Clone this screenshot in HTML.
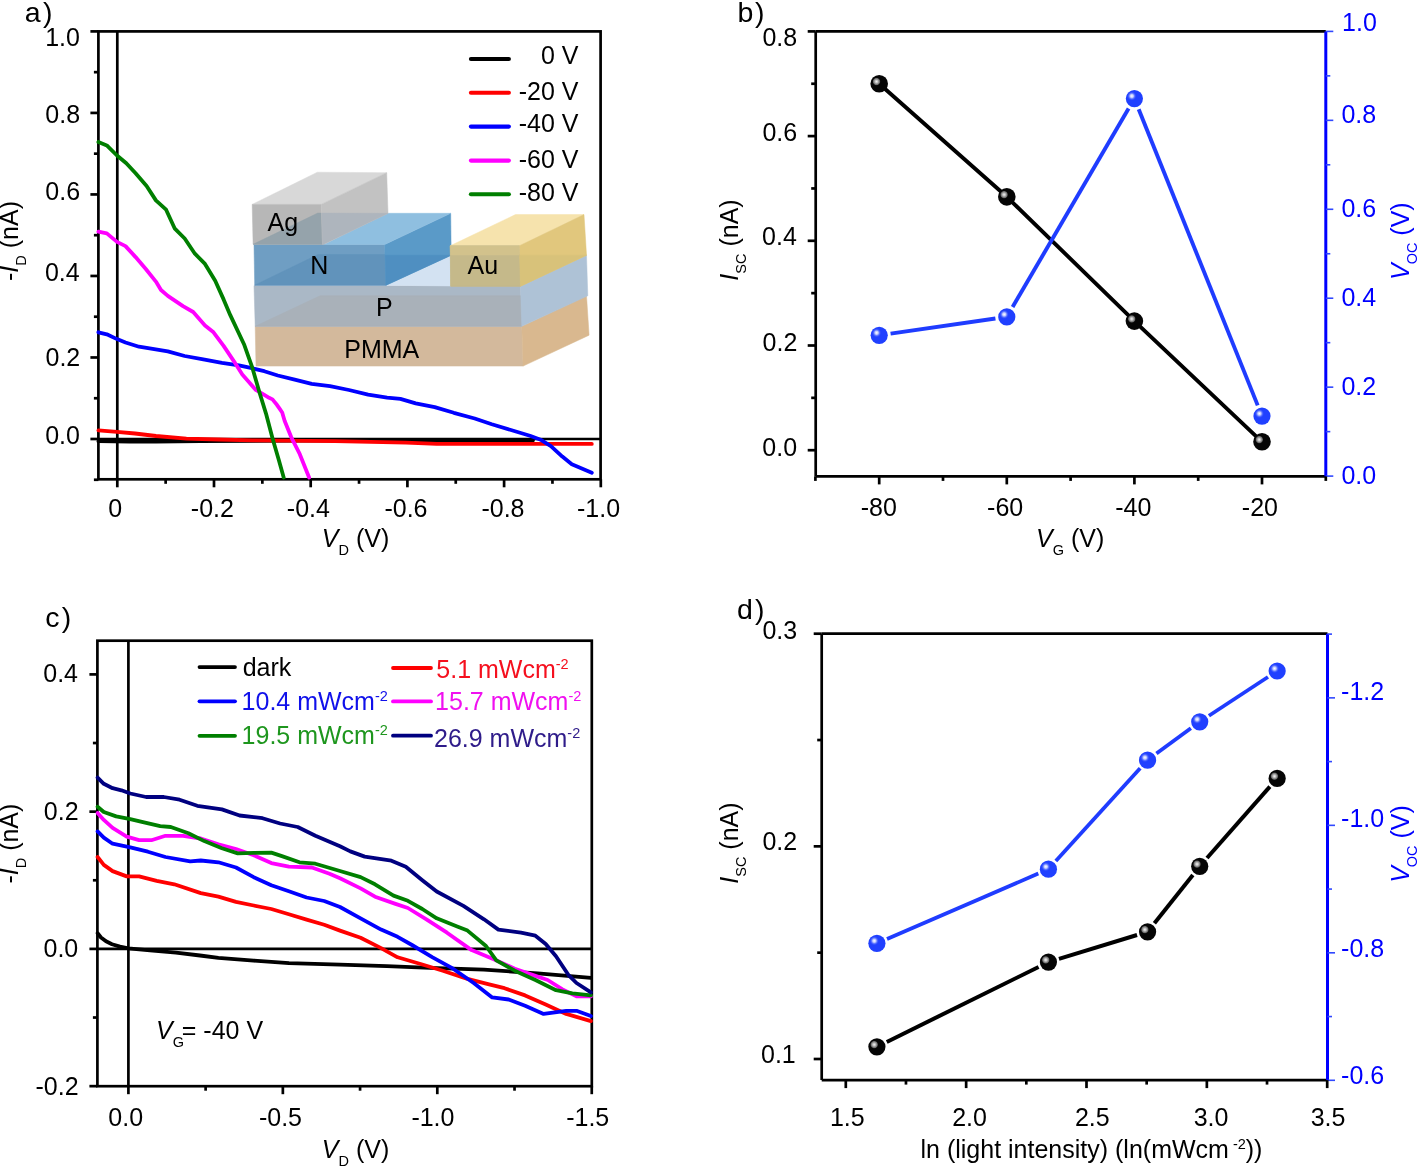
<!DOCTYPE html>
<html><head><meta charset="utf-8"><title>figure</title>
<style>
html,body{margin:0;padding:0;background:#fff;}
svg{display:block;will-change:transform;font-family:"Liberation Sans", sans-serif;}
</style></head>
<body>
<svg width="1418" height="1167" viewBox="0 0 1418 1167">
<rect width="1418" height="1167" fill="#fff"/>
<defs><radialGradient id="hk"><stop offset="0" stop-color="#f4f4f4"/><stop offset="0.35" stop-color="#bcbcbc"/><stop offset="0.72" stop-color="#8c8c8c" stop-opacity="0.75"/><stop offset="1" stop-color="#000" stop-opacity="0"/></radialGradient><radialGradient id="hb"><stop offset="0" stop-color="#ffffff"/><stop offset="0.35" stop-color="#d0d8ff" stop-opacity="0.9"/><stop offset="1" stop-color="#2040ff" stop-opacity="0"/></radialGradient></defs>
<polygon points="255.2,326.3 521.8,326.3 523.1,366.1 256,366.1" fill="#d3b99c" stroke="#d3b99c" stroke-width="0.5" stroke-linejoin="round"/>
<polygon points="521.8,326.3 586.5,295.8 589.1,335.2 523.1,366.1" fill="#d9b88f" stroke="#d9b88f" stroke-width="0.5" stroke-linejoin="round"/>
<polygon points="254,285.7 520.5,285.7 521.8,326.3 255.2,326.3" fill="#aab8c6" stroke="#aab8c6" stroke-width="0.5" stroke-linejoin="round"/>
<polygon points="255.2,326.3 320,295.8 521.3,295.8 521.8,326.3" fill="#a9b1b9" stroke="#a9b1b9" stroke-width="0.5" stroke-linejoin="round"/>
<polygon points="520.5,285.7 586.5,255.2 587.8,295.8 521.8,326.3" fill="#aec2d6" stroke="#aec2d6" stroke-width="0.5" stroke-linejoin="round"/>
<polygon points="386,285.2 451.2,255.2 451,286" fill="#d3e2f2" stroke="#d3e2f2" stroke-width="0.5" stroke-linejoin="round"/>
<polygon points="254,244.5 384.7,244.5 386,285.2 254.7,285.2" fill="#6f9ec3" stroke="#6f9ec3" stroke-width="0.5" stroke-linejoin="round"/>
<polygon points="254.7,285.2 318,254.5 385.5,254.5 386,285.2" fill="#6193bb" stroke="#6193bb" stroke-width="0.5" stroke-linejoin="round"/>
<polygon points="384.7,244.5 450.7,213.3 451.2,255.2 386,285.2" fill="#5a9ac8" stroke="#5a9ac8" stroke-width="0.5" stroke-linejoin="round"/>
<polygon points="385.4,255.2 451.2,255.2 386,285.2" fill="#4f8fc1" stroke="#4f8fc1" stroke-width="0.5" stroke-linejoin="round"/>
<polygon points="324,244.5 388,213.3 450.7,213.3 384.7,244.5" fill="#8fbfe0" stroke="#8fbfe0" stroke-width="0.5" stroke-linejoin="round"/>
<polygon points="252.2,204.4 317.4,172.2 386.7,172.7 321.2,204.4" fill="#d8d8d8" stroke="#d8d8d8" stroke-width="0.5" stroke-linejoin="round"/>
<polygon points="252.2,204.4 321.2,204.4 322.5,244.3 253.1,244.3" fill="#b7b7b7" stroke="#b7b7b7" stroke-width="0.5" stroke-linejoin="round"/>
<polygon points="253.1,244.3 317.8,213.1 321.8,213.1 322.5,244.3" fill="#95a3ab" stroke="#95a3ab" stroke-width="0.5" stroke-linejoin="round"/>
<polygon points="321.2,204.4 386.7,172.7 388,213.3 322.5,244.3" fill="#c2c2c2" stroke="#c2c2c2" stroke-width="0.5" stroke-linejoin="round"/>
<polygon points="321.8,213.1 388,213.3 324,244.3 322.5,244.3" fill="#aeb5bd" stroke="#aeb5bd" stroke-width="0.5" stroke-linejoin="round"/>
<polygon points="515.4,214.6 584,214.6 519.3,245.8 450.2,245.8" fill="#f6e3ad" stroke="#f6e3ad" stroke-width="0.5" stroke-linejoin="round"/>
<polygon points="450.2,245.8 519.3,245.8 520.5,286.2 450.7,286.2" fill="#c9bc8b" stroke="#c9bc8b" stroke-width="0.5" stroke-linejoin="round"/>
<polygon points="519.3,245.8 584,214.6 586.5,255.2 520.5,286.2" fill="#e1c77d" stroke="#e1c77d" stroke-width="0.5" stroke-linejoin="round"/>
<polygon points="450.5,255 519.6,255 520.5,286.2 450.7,286.2" fill="#c5b98a" stroke="#c5b98a" stroke-width="0.5" stroke-linejoin="round"/>
<polygon points="450.2,245.8 519.3,245.8 519.6,255 450.5,255" fill="#d2c28c" stroke="#d2c28c" stroke-width="0.5" stroke-linejoin="round"/>
<polygon points="519.6,255.2 586.5,255.2 520.5,286.2" fill="#d8c27a" stroke="#d8c27a" stroke-width="0.5" stroke-linejoin="round"/>
<text x="267.5" y="230.5" font-size="25" text-anchor="start" fill="#000" >Ag</text>
<text x="310.2" y="273.9" font-size="25" text-anchor="start" fill="#000" >N</text>
<text x="467.6" y="273.9" font-size="25" text-anchor="start" fill="#000" >Au</text>
<text x="376" y="316.2" font-size="25" text-anchor="start" fill="#000" >P</text>
<text x="344.3" y="357.6" font-size="25" text-anchor="start" fill="#000" >PMMA</text>
<rect x="98.4" y="31.4" width="502.2" height="447.9" fill="none" stroke="#000" stroke-width="2.7"/>
<line x1="117.3" y1="31.4" x2="117.3" y2="479.3" stroke="#000" stroke-width="2.7" stroke-linecap="butt"/>
<line x1="98.4" y1="439" x2="600.6" y2="439" stroke="#000" stroke-width="2.7" stroke-linecap="butt"/>
<line x1="98.4" y1="439" x2="90.4" y2="439" stroke="#000" stroke-width="2.7" stroke-linecap="butt"/>
<line x1="98.4" y1="357.48" x2="90.4" y2="357.48" stroke="#000" stroke-width="2.7" stroke-linecap="butt"/>
<line x1="98.4" y1="275.96" x2="90.4" y2="275.96" stroke="#000" stroke-width="2.7" stroke-linecap="butt"/>
<line x1="98.4" y1="194.44" x2="90.4" y2="194.44" stroke="#000" stroke-width="2.7" stroke-linecap="butt"/>
<line x1="98.4" y1="112.92" x2="90.4" y2="112.92" stroke="#000" stroke-width="2.7" stroke-linecap="butt"/>
<line x1="98.4" y1="31.4" x2="90.4" y2="31.4" stroke="#000" stroke-width="2.7" stroke-linecap="butt"/>
<line x1="98.4" y1="398.24" x2="93.9" y2="398.24" stroke="#000" stroke-width="2.7" stroke-linecap="butt"/>
<line x1="98.4" y1="316.72" x2="93.9" y2="316.72" stroke="#000" stroke-width="2.7" stroke-linecap="butt"/>
<line x1="98.4" y1="235.2" x2="93.9" y2="235.2" stroke="#000" stroke-width="2.7" stroke-linecap="butt"/>
<line x1="98.4" y1="153.68" x2="93.9" y2="153.68" stroke="#000" stroke-width="2.7" stroke-linecap="butt"/>
<line x1="98.4" y1="72.16" x2="93.9" y2="72.16" stroke="#000" stroke-width="2.7" stroke-linecap="butt"/>
<line x1="98.4" y1="479.76" x2="93.9" y2="479.76" stroke="#000" stroke-width="2.7" stroke-linecap="butt"/>
<line x1="117.3" y1="479.3" x2="117.3" y2="487.3" stroke="#000" stroke-width="2.7" stroke-linecap="butt"/>
<line x1="214" y1="479.3" x2="214" y2="487.3" stroke="#000" stroke-width="2.7" stroke-linecap="butt"/>
<line x1="310.7" y1="479.3" x2="310.7" y2="487.3" stroke="#000" stroke-width="2.7" stroke-linecap="butt"/>
<line x1="407.4" y1="479.3" x2="407.4" y2="487.3" stroke="#000" stroke-width="2.7" stroke-linecap="butt"/>
<line x1="504.1" y1="479.3" x2="504.1" y2="487.3" stroke="#000" stroke-width="2.7" stroke-linecap="butt"/>
<line x1="600.8" y1="479.3" x2="600.8" y2="487.3" stroke="#000" stroke-width="2.7" stroke-linecap="butt"/>
<line x1="165.65" y1="479.3" x2="165.65" y2="483.8" stroke="#000" stroke-width="2.7" stroke-linecap="butt"/>
<line x1="262.35" y1="479.3" x2="262.35" y2="483.8" stroke="#000" stroke-width="2.7" stroke-linecap="butt"/>
<line x1="359.05" y1="479.3" x2="359.05" y2="483.8" stroke="#000" stroke-width="2.7" stroke-linecap="butt"/>
<line x1="455.75" y1="479.3" x2="455.75" y2="483.8" stroke="#000" stroke-width="2.7" stroke-linecap="butt"/>
<line x1="552.45" y1="479.3" x2="552.45" y2="483.8" stroke="#000" stroke-width="2.7" stroke-linecap="butt"/>
<text x="45.22" y="46.1" font-size="25" text-anchor="start" fill="#000" >1.0</text>
<text x="45.33" y="122.7" font-size="25" text-anchor="start" fill="#000" >0.8</text>
<text x="45.35" y="199.5" font-size="25" text-anchor="start" fill="#000" >0.6</text>
<text x="44.98" y="281.1" font-size="25" text-anchor="start" fill="#000" >0.4</text>
<text x="45.5" y="365.5" font-size="25" text-anchor="start" fill="#000" >0.2</text>
<text x="45.22" y="444.3" font-size="25" text-anchor="start" fill="#000" >0.0</text>
<text x="108.2" y="516.6" font-size="25" text-anchor="start" fill="#000" >0</text>
<text x="190.83" y="516.6" font-size="25" text-anchor="start" fill="#000" >-0.2</text>
<text x="286.82" y="516.6" font-size="25" text-anchor="start" fill="#000" >-0.4</text>
<text x="384.45" y="516.6" font-size="25" text-anchor="start" fill="#000" >-0.6</text>
<text x="481.45" y="516.6" font-size="25" text-anchor="start" fill="#000" >-0.8</text>
<text x="577.04" y="516.6" font-size="25" text-anchor="start" fill="#000" >-1.0</text>
<polyline points="98.4,441.2 130,441.6 155.9,441.6 200,441 300,440.6 400,440.3 533,440.3" fill="none" stroke="#000" stroke-width="3.8" stroke-linejoin="round" stroke-linecap="round"/>
<polyline points="98.4,430.4 117,431.9 135,433.5 156,436 186.4,438.6 218.6,439.5 252.4,440.3 335,441.2 406,442.7 436.6,443.9 591.8,443.9" fill="none" stroke="#ff0000" stroke-width="3.8" stroke-linejoin="round" stroke-linecap="round"/>
<polyline points="98.4,332.3 106.8,334.3 117,339.1 125.5,342.5 139,346.7 154.2,349.2 167.8,351.3 184.7,356 203.3,359.4 222,362.8 238.9,365.3 250.7,367.9 264.3,371.2 277.8,375.5 294.7,379.7 311.7,383.9 330,386.2 349,390 368.1,394.7 387.1,397.6 400.4,398.9 415.7,403.3 434.7,407.1 453.8,412.8 474.7,418.5 491.8,424.2 510.9,430 529.9,435.7 541.3,440.1 550.9,446.1 562.3,456.6 571.8,464.2 591.8,472.8" fill="none" stroke="#0000ff" stroke-width="3.8" stroke-linejoin="round" stroke-linecap="round"/>
<polyline points="98.4,231.7 106.8,233.4 117,241.9 125.5,246.1 135.6,257.1 145.8,269 155.9,281.6 161,290 167.8,295.9 183,306.1 193.2,312 205,325.5 213.5,332.3 223.6,345.9 233.8,361.1 242.3,374.6 255.8,389.9 264.3,394.9 269.1,397.8 272.5,399.4 274.5,401.9 276.9,404.8 279.4,408.4 282.2,412.5 284.6,420.7 291.3,437.3 299.8,454.2 309.1,477.5" fill="none" stroke="#ff00ff" stroke-width="3.8" stroke-linejoin="round" stroke-linecap="round"/>
<polyline points="98.4,142 106.8,145.4 117,155.5 126.3,163.2 135.6,173.3 146.6,186 155.9,200.4 166.1,209.7 174.6,228.3 184.7,238.5 194.9,253.7 205,263.9 215.2,280.8 223.6,299.4 230.4,315.4 244,344.2 252.4,367.9 259.2,391.6 266,413.6 272.7,439 278.6,459.3 283.7,477.5" fill="none" stroke="#007f00" stroke-width="3.8" stroke-linejoin="round" stroke-linecap="round"/>
<line x1="470.9" y1="59" x2="508.9" y2="59" stroke="#000" stroke-width="4.1" stroke-linecap="round"/>
<text x="540.89" y="64.3" font-size="25" text-anchor="start" fill="#000" >0 V</text>
<line x1="470.9" y1="92.7" x2="508.9" y2="92.7" stroke="#ff0000" stroke-width="4.1" stroke-linecap="round"/>
<text x="518.66" y="100" font-size="25" text-anchor="start" fill="#000" >-20 V</text>
<line x1="470.9" y1="126.6" x2="508.9" y2="126.6" stroke="#0000ff" stroke-width="4.1" stroke-linecap="round"/>
<text x="518.66" y="131.7" font-size="25" text-anchor="start" fill="#000" >-40 V</text>
<line x1="470.9" y1="160.6" x2="508.9" y2="160.6" stroke="#ff00ff" stroke-width="4.1" stroke-linecap="round"/>
<text x="518.66" y="167.7" font-size="25" text-anchor="start" fill="#000" >-60 V</text>
<line x1="470.9" y1="194.3" x2="508.9" y2="194.3" stroke="#007f00" stroke-width="4.1" stroke-linecap="round"/>
<text x="518.66" y="201.4" font-size="25" text-anchor="start" fill="#000" >-80 V</text>
<text x="24.7" y="21.9" font-size="28.5" text-anchor="start" fill="#000" >a</text>
<text x="42.9" y="21.9" font-size="28.5" text-anchor="start" fill="#000" >)</text>
<text transform="translate(18,241) rotate(-90)" font-size="25" text-anchor="middle">-<tspan font-style="italic">I</tspan><tspan font-size="14.5" dy="8">D</tspan><tspan dy="-8"> (nA)</tspan></text>
<text x="321.8" y="546.7" font-size="25"><tspan font-style="italic">V</tspan><tspan font-size="14.5" dy="8">D</tspan><tspan dy="-8"> (V)</tspan></text>
<line x1="815.7" y1="31.4" x2="1325.8" y2="31.4" stroke="#000" stroke-width="2.7" stroke-linecap="butt"/>
<line x1="815.7" y1="476.4" x2="1325.8" y2="476.4" stroke="#000" stroke-width="2.7" stroke-linecap="butt"/>
<line x1="815.7" y1="31.4" x2="815.7" y2="476.4" stroke="#000" stroke-width="2.7" stroke-linecap="butt"/>
<line x1="1325.8" y1="31.4" x2="1325.8" y2="476.4" stroke="#0000ff" stroke-width="3" stroke-linecap="butt"/>
<line x1="815.7" y1="450.2" x2="807.7" y2="450.2" stroke="#000" stroke-width="2.7" stroke-linecap="butt"/>
<line x1="815.7" y1="345.5" x2="807.7" y2="345.5" stroke="#000" stroke-width="2.7" stroke-linecap="butt"/>
<line x1="815.7" y1="240.8" x2="807.7" y2="240.8" stroke="#000" stroke-width="2.7" stroke-linecap="butt"/>
<line x1="815.7" y1="136.1" x2="807.7" y2="136.1" stroke="#000" stroke-width="2.7" stroke-linecap="butt"/>
<line x1="815.7" y1="31.4" x2="807.7" y2="31.4" stroke="#000" stroke-width="2.7" stroke-linecap="butt"/>
<line x1="815.7" y1="397.85" x2="811.2" y2="397.85" stroke="#000" stroke-width="2.7" stroke-linecap="butt"/>
<line x1="815.7" y1="293.15" x2="811.2" y2="293.15" stroke="#000" stroke-width="2.7" stroke-linecap="butt"/>
<line x1="815.7" y1="188.45" x2="811.2" y2="188.45" stroke="#000" stroke-width="2.7" stroke-linecap="butt"/>
<line x1="815.7" y1="83.75" x2="811.2" y2="83.75" stroke="#000" stroke-width="2.7" stroke-linecap="butt"/>
<line x1="1325.8" y1="476.1" x2="1333.3" y2="476.1" stroke="#3048ff" stroke-width="1.6" stroke-linecap="butt"/>
<line x1="1325.8" y1="387.16" x2="1333.3" y2="387.16" stroke="#3048ff" stroke-width="1.6" stroke-linecap="butt"/>
<line x1="1325.8" y1="298.22" x2="1333.3" y2="298.22" stroke="#3048ff" stroke-width="1.6" stroke-linecap="butt"/>
<line x1="1325.8" y1="209.28" x2="1333.3" y2="209.28" stroke="#3048ff" stroke-width="1.6" stroke-linecap="butt"/>
<line x1="1325.8" y1="120.34" x2="1333.3" y2="120.34" stroke="#3048ff" stroke-width="1.6" stroke-linecap="butt"/>
<line x1="1325.8" y1="31.4" x2="1333.3" y2="31.4" stroke="#3048ff" stroke-width="1.6" stroke-linecap="butt"/>
<line x1="1325.8" y1="431.63" x2="1330.3" y2="431.63" stroke="#3048ff" stroke-width="1.6" stroke-linecap="butt"/>
<line x1="1325.8" y1="342.69" x2="1330.3" y2="342.69" stroke="#3048ff" stroke-width="1.6" stroke-linecap="butt"/>
<line x1="1325.8" y1="253.75" x2="1330.3" y2="253.75" stroke="#3048ff" stroke-width="1.6" stroke-linecap="butt"/>
<line x1="1325.8" y1="164.81" x2="1330.3" y2="164.81" stroke="#3048ff" stroke-width="1.6" stroke-linecap="butt"/>
<line x1="1325.8" y1="75.87" x2="1330.3" y2="75.87" stroke="#3048ff" stroke-width="1.6" stroke-linecap="butt"/>
<line x1="879.2" y1="476.4" x2="879.2" y2="484.4" stroke="#000" stroke-width="2.7" stroke-linecap="butt"/>
<line x1="1006.8" y1="476.4" x2="1006.8" y2="484.4" stroke="#000" stroke-width="2.7" stroke-linecap="butt"/>
<line x1="1134.4" y1="476.4" x2="1134.4" y2="484.4" stroke="#000" stroke-width="2.7" stroke-linecap="butt"/>
<line x1="1262" y1="476.4" x2="1262" y2="484.4" stroke="#000" stroke-width="2.7" stroke-linecap="butt"/>
<line x1="815.4" y1="476.4" x2="815.4" y2="480.9" stroke="#000" stroke-width="2.7" stroke-linecap="butt"/>
<line x1="943" y1="476.4" x2="943" y2="480.9" stroke="#000" stroke-width="2.7" stroke-linecap="butt"/>
<line x1="1070.6" y1="476.4" x2="1070.6" y2="480.9" stroke="#000" stroke-width="2.7" stroke-linecap="butt"/>
<line x1="1198.2" y1="476.4" x2="1198.2" y2="480.9" stroke="#000" stroke-width="2.7" stroke-linecap="butt"/>
<line x1="1325.8" y1="476.4" x2="1325.8" y2="480.9" stroke="#000" stroke-width="2.7" stroke-linecap="butt"/>
<text x="762.43" y="45.5" font-size="25" text-anchor="start" fill="#000" >0.8</text>
<text x="762.45" y="141.3" font-size="25" text-anchor="start" fill="#000" >0.6</text>
<text x="762.08" y="245.3" font-size="25" text-anchor="start" fill="#000" >0.4</text>
<text x="762.6" y="351.1" font-size="25" text-anchor="start" fill="#000" >0.2</text>
<text x="762.32" y="455.7" font-size="25" text-anchor="start" fill="#000" >0.0</text>
<text x="1342.1" y="30.7" font-size="25" text-anchor="start" fill="#0000ff" >1.0</text>
<text x="1341.42" y="122.8" font-size="25" text-anchor="start" fill="#0000ff" >0.8</text>
<text x="1341.42" y="217" font-size="25" text-anchor="start" fill="#0000ff" >0.6</text>
<text x="1341.42" y="306" font-size="25" text-anchor="start" fill="#0000ff" >0.4</text>
<text x="1341.42" y="395.3" font-size="25" text-anchor="start" fill="#0000ff" >0.2</text>
<text x="1341.42" y="484.3" font-size="25" text-anchor="start" fill="#0000ff" >0.0</text>
<text x="860.77" y="516.4" font-size="25" text-anchor="start" fill="#000" >-80</text>
<text x="987.07" y="516.4" font-size="25" text-anchor="start" fill="#000" >-60</text>
<text x="1115.17" y="516.4" font-size="25" text-anchor="start" fill="#000" >-40</text>
<text x="1241.87" y="516.4" font-size="25" text-anchor="start" fill="#000" >-20</text>
<polyline points="879.2,83.75 1006.8,196.83 1134.4,321.1 1262,441.82" fill="none" stroke="#000" stroke-width="3.9" stroke-linejoin="round" stroke-linecap="round"/>
<line x1="890.58" y1="333.67" x2="995.42" y2="318.54" stroke="#1f3cff" stroke-width="3.9" stroke-linecap="butt"/>
<line x1="1012.6" y1="306.97" x2="1128.6" y2="108.48" stroke="#1f3cff" stroke-width="3.9" stroke-linecap="butt"/>
<line x1="1138.69" y1="109.22" x2="1257.71" y2="405.39" stroke="#1f3cff" stroke-width="3.9" stroke-linecap="butt"/>
<circle cx="879.2" cy="83.75" r="8.8" fill="#050505"/>
<circle cx="876.5" cy="81.55" r="4.4" fill="url(#hk)"/>
<circle cx="1006.8" cy="196.83" r="8.8" fill="#050505"/>
<circle cx="1004.1" cy="194.63" r="4.4" fill="url(#hk)"/>
<circle cx="1134.4" cy="321.1" r="8.8" fill="#050505"/>
<circle cx="1131.7" cy="318.9" r="4.4" fill="url(#hk)"/>
<circle cx="1262" cy="441.82" r="8.8" fill="#050505"/>
<circle cx="1259.3" cy="439.62" r="4.4" fill="url(#hk)"/>
<circle cx="879.2" cy="335.31" r="8.6" fill="#2040ff"/>
<circle cx="876.6" cy="332.81" r="4.8" fill="url(#hb)"/>
<circle cx="1006.8" cy="316.9" r="8.6" fill="#2040ff"/>
<circle cx="1004.2" cy="314.4" r="4.8" fill="url(#hb)"/>
<circle cx="1134.4" cy="98.55" r="8.6" fill="#2040ff"/>
<circle cx="1131.8" cy="96.05" r="4.8" fill="url(#hb)"/>
<circle cx="1262" cy="416.07" r="8.6" fill="#2040ff"/>
<circle cx="1259.4" cy="413.57" r="4.8" fill="url(#hb)"/>
<text x="737.4" y="21.9" font-size="28.5" text-anchor="start" fill="#000" >b</text>
<text x="755" y="21.9" font-size="28.5" text-anchor="start" fill="#000" >)</text>
<text transform="translate(737.5,240) rotate(-90)" font-size="25" text-anchor="middle"><tspan font-style="italic">I</tspan><tspan font-size="14.5" dy="8">SC</tspan><tspan dy="-8"> (nA)</tspan></text>
<text transform="translate(1409,280.05) rotate(-90)" font-size="25" fill="#0000ff"><tspan font-style="italic">V</tspan><tspan font-size="14.5" dx="-1" dy="8">OC</tspan><tspan dy="-8"> (V)</tspan></text>
<text x="1036.1" y="546.5" font-size="25"><tspan font-style="italic">V</tspan><tspan font-size="14.5" dy="8">G</tspan><tspan dy="-8"> (V)</tspan></text>
<rect x="97.4" y="640.7" width="494.4" height="445.5" fill="none" stroke="#000" stroke-width="2.7"/>
<line x1="128.4" y1="640.7" x2="128.4" y2="1086.2" stroke="#000" stroke-width="2.7" stroke-linecap="butt"/>
<line x1="97.4" y1="948.9" x2="591.8" y2="948.9" stroke="#000" stroke-width="2.7" stroke-linecap="butt"/>
<line x1="97.4" y1="674.4" x2="89.4" y2="674.4" stroke="#000" stroke-width="2.7" stroke-linecap="butt"/>
<line x1="97.4" y1="811.65" x2="89.4" y2="811.65" stroke="#000" stroke-width="2.7" stroke-linecap="butt"/>
<line x1="97.4" y1="948.9" x2="89.4" y2="948.9" stroke="#000" stroke-width="2.7" stroke-linecap="butt"/>
<line x1="97.4" y1="1086.15" x2="89.4" y2="1086.15" stroke="#000" stroke-width="2.7" stroke-linecap="butt"/>
<line x1="97.4" y1="743.02" x2="92.9" y2="743.02" stroke="#000" stroke-width="2.7" stroke-linecap="butt"/>
<line x1="97.4" y1="880.27" x2="92.9" y2="880.27" stroke="#000" stroke-width="2.7" stroke-linecap="butt"/>
<line x1="97.4" y1="1017.52" x2="92.9" y2="1017.52" stroke="#000" stroke-width="2.7" stroke-linecap="butt"/>
<line x1="128.4" y1="1086.2" x2="128.4" y2="1094.2" stroke="#000" stroke-width="2.7" stroke-linecap="butt"/>
<line x1="282.85" y1="1086.2" x2="282.85" y2="1094.2" stroke="#000" stroke-width="2.7" stroke-linecap="butt"/>
<line x1="437.3" y1="1086.2" x2="437.3" y2="1094.2" stroke="#000" stroke-width="2.7" stroke-linecap="butt"/>
<line x1="591.75" y1="1086.2" x2="591.75" y2="1094.2" stroke="#000" stroke-width="2.7" stroke-linecap="butt"/>
<line x1="205.62" y1="1086.2" x2="205.62" y2="1090.7" stroke="#000" stroke-width="2.7" stroke-linecap="butt"/>
<line x1="360.07" y1="1086.2" x2="360.07" y2="1090.7" stroke="#000" stroke-width="2.7" stroke-linecap="butt"/>
<line x1="514.52" y1="1086.2" x2="514.52" y2="1090.7" stroke="#000" stroke-width="2.7" stroke-linecap="butt"/>
<text x="43.28" y="681.7" font-size="25" text-anchor="start" fill="#000" >0.4</text>
<text x="43.8" y="819.6" font-size="25" text-anchor="start" fill="#000" >0.2</text>
<text x="43.52" y="956.5" font-size="25" text-anchor="start" fill="#000" >0.0</text>
<text x="35.48" y="1094.5" font-size="25" text-anchor="start" fill="#000" >-0.2</text>
<text x="108.32" y="1126.1" font-size="25" text-anchor="start" fill="#000" >0.0</text>
<text x="258.93" y="1126.1" font-size="25" text-anchor="start" fill="#000" >-0.5</text>
<text x="411.39" y="1126.1" font-size="25" text-anchor="start" fill="#000" >-1.0</text>
<text x="566.18" y="1126.1" font-size="25" text-anchor="start" fill="#000" >-1.5</text>
<polyline points="97.6,933.2 101,937.5 106,941.3 112,944.2 120,946.6 128.4,948.3 150,950.3 176,952.6 200,955.5 218.4,957.9 253.7,960.6 289,963.2 340,964.6 386.8,966.1 429.9,967.9 483.9,969.7 537.8,973.3 590.9,977.8" fill="none" stroke="#000" stroke-width="3.8" stroke-linejoin="round" stroke-linecap="round"/>
<polyline points="97.6,857 103.8,864.9 112.6,871.1 126.7,876.4 139.1,876.4 156.7,880.8 174.3,884.3 200.8,893.1 218.4,896.6 236,901.9 253.7,905.5 271.3,909 288.9,914.3 306.6,919.6 324.2,924.8 340,930.6 360.6,937.8 381.1,948.1 397.6,957.3 422.3,964.5 442.8,970.7 467.5,978.9 488.1,984.1 504.5,988.2 525.1,995.4 545.7,1004.6 566.2,1013.9 590.9,1021.1" fill="none" stroke="#ff0000" stroke-width="3.8" stroke-linejoin="round" stroke-linecap="round"/>
<polyline points="97.6,831.4 103.8,837.6 112.6,843.7 130.3,847.3 147.9,851.7 165.5,857 190.2,861.4 200.8,860.5 218.4,862.3 236,867.5 253.7,877.2 271.3,885.2 288.9,891.3 306.6,897.5 324.2,901 340,907 360.6,918.3 381.1,929.6 397.6,936.8 412,945 432.6,957.3 453.1,968.7 473.7,983 492.2,997.4 508.7,999.5 525.1,1005.7 543.6,1013.9 566.2,1010.8 576.5,1010.8 590.9,1016" fill="none" stroke="#0000ff" stroke-width="3.8" stroke-linejoin="round" stroke-linecap="round"/>
<polyline points="97.6,812.9 103.8,819.9 112.6,827.9 126.7,836.7 139.1,840.2 151.4,840.2 165.5,835.8 183.2,835.8 200.8,838.5 218.4,844.3 236,849 253.7,855.2 271.3,863.1 288.9,866.7 311.9,867.5 329.5,873.7 340,878.2 360.6,888.4 375,896.7 395.5,903.9 407.9,908 426.4,919.3 447,932.7 471.6,950.1 494.3,959.4 514.8,968.7 535.4,975.9 547.7,980 562.1,989.2 576.5,996.4 590.9,996.4" fill="none" stroke="#ff00ff" stroke-width="3.8" stroke-linejoin="round" stroke-linecap="round"/>
<polyline points="97.6,806.7 103.8,812 116.2,816.4 130.3,819.1 140.8,821.7 160.2,826.1 170.8,827 188.4,833.2 204.3,841.1 221.9,848.2 237.8,853.4 253.7,852.9 271.3,852.6 281.9,856.1 299.5,862.3 315.4,863.7 340,871 360.6,877.1 375,884.3 393.5,895.6 407.9,900.8 422.3,909 436.7,918.3 457.2,926.5 467.5,930.6 486,946 496.3,960.4 514.8,970.7 535.4,980 556,990.2 572.4,993.3 590.9,995.4" fill="none" stroke="#007f00" stroke-width="3.8" stroke-linejoin="round" stroke-linecap="round"/>
<polyline points="97.6,777.6 103.8,783.8 112.6,788.2 121.4,790.3 130.3,793.5 146.1,797 163.8,797 179.6,799.7 197.3,805.8 221.9,809.4 239.6,815.5 262.5,818.2 280.1,823.5 297.7,827 315.4,835.8 340,846.3 350.3,851.4 364.7,856.6 391.4,860.7 405.8,866.8 422.3,880.2 436.7,891.5 463.4,905.9 484,919.3 498.4,929.6 521,932.7 535.4,935.7 545.7,944 556,956.3 568.3,974.8 576.5,983 590.9,992.3" fill="none" stroke="#000080" stroke-width="3.8" stroke-linejoin="round" stroke-linecap="round"/>
<line x1="199.5" y1="667.1" x2="235" y2="667.1" stroke="#000" stroke-width="3.8" stroke-linecap="round"/>
<text x="242.65" y="676.3" font-size="25" text-anchor="start" fill="#000" >dark</text>
<line x1="393" y1="668" x2="431" y2="668" stroke="#ff0000" stroke-width="3.8" stroke-linecap="round"/>
<text x="436.3" y="678.2" font-size="25" fill="#f5101e">5.1 mWcm<tspan font-size="14.5" dy="-9">-2</tspan></text>
<line x1="199.5" y1="701.3" x2="235" y2="701.3" stroke="#0000ff" stroke-width="3.8" stroke-linecap="round"/>
<text x="241.6" y="709.8" font-size="25" fill="#1010ea">10.4 mWcm<tspan font-size="14.5" dy="-9">-2</tspan></text>
<line x1="393" y1="701.4" x2="431" y2="701.4" stroke="#ff00ff" stroke-width="3.8" stroke-linecap="round"/>
<text x="435.1" y="710" font-size="25" fill="#f010f0">15.7 mWcm<tspan font-size="14.5" dy="-9">-2</tspan></text>
<line x1="199.5" y1="735.8" x2="235" y2="735.8" stroke="#007f00" stroke-width="3.8" stroke-linecap="round"/>
<text x="241.6" y="744.2" font-size="25" fill="#1e961e">19.5 mWcm<tspan font-size="14.5" dy="-9">-2</tspan></text>
<line x1="393" y1="735.7" x2="431" y2="735.7" stroke="#000080" stroke-width="3.8" stroke-linecap="round"/>
<text x="434" y="746.8" font-size="25" fill="#2f1c8a">26.9 mWcm<tspan font-size="14.5" dy="-9">-2</tspan></text>
<text x="45.3" y="626.8" font-size="28.5" text-anchor="start" fill="#000" >c</text>
<text x="61.85" y="626.8" font-size="28.5" text-anchor="start" fill="#000" >)</text>
<text transform="translate(18,843.6) rotate(-90)" font-size="25" text-anchor="middle">-<tspan font-style="italic">I</tspan><tspan font-size="14.5" dy="8">D</tspan><tspan dy="-8"> (nA)</tspan></text>
<text x="321.8" y="1157.7" font-size="25"><tspan font-style="italic">V</tspan><tspan font-size="14.5" dy="8">D</tspan><tspan dy="-8"> (V)</tspan></text>
<text x="156" y="1039.4" font-size="25"><tspan font-style="italic">V</tspan><tspan font-size="14.5" dy="8">G</tspan><tspan dx="-2.2" dy="-8">= -40 V</tspan></text>
<line x1="821.7" y1="633.7" x2="1327.5" y2="633.7" stroke="#000" stroke-width="2.7" stroke-linecap="butt"/>
<line x1="821.7" y1="1080.1" x2="1327.5" y2="1080.1" stroke="#000" stroke-width="2.7" stroke-linecap="butt"/>
<line x1="821.7" y1="633.7" x2="821.7" y2="1080.1" stroke="#000" stroke-width="2.7" stroke-linecap="butt"/>
<line x1="1327.5" y1="633.7" x2="1327.5" y2="1080.1" stroke="#0000ff" stroke-width="3" stroke-linecap="butt"/>
<line x1="821.7" y1="1059" x2="813.7" y2="1059" stroke="#000" stroke-width="2.7" stroke-linecap="butt"/>
<line x1="821.7" y1="846.35" x2="813.7" y2="846.35" stroke="#000" stroke-width="2.7" stroke-linecap="butt"/>
<line x1="821.7" y1="633.7" x2="813.7" y2="633.7" stroke="#000" stroke-width="2.7" stroke-linecap="butt"/>
<line x1="821.7" y1="952.68" x2="817.2" y2="952.68" stroke="#000" stroke-width="2.7" stroke-linecap="butt"/>
<line x1="821.7" y1="740.03" x2="817.2" y2="740.03" stroke="#000" stroke-width="2.7" stroke-linecap="butt"/>
<line x1="1327.5" y1="1080.3" x2="1335" y2="1080.3" stroke="#3048ff" stroke-width="1.6" stroke-linecap="butt"/>
<line x1="1327.5" y1="952.82" x2="1335" y2="952.82" stroke="#3048ff" stroke-width="1.6" stroke-linecap="butt"/>
<line x1="1327.5" y1="825.34" x2="1335" y2="825.34" stroke="#3048ff" stroke-width="1.6" stroke-linecap="butt"/>
<line x1="1327.5" y1="697.86" x2="1335" y2="697.86" stroke="#3048ff" stroke-width="1.6" stroke-linecap="butt"/>
<line x1="1327.5" y1="1016.56" x2="1332" y2="1016.56" stroke="#3048ff" stroke-width="1.6" stroke-linecap="butt"/>
<line x1="1327.5" y1="889.08" x2="1332" y2="889.08" stroke="#3048ff" stroke-width="1.6" stroke-linecap="butt"/>
<line x1="1327.5" y1="761.6" x2="1332" y2="761.6" stroke="#3048ff" stroke-width="1.6" stroke-linecap="butt"/>
<line x1="1327.5" y1="634.12" x2="1332" y2="634.12" stroke="#3048ff" stroke-width="1.6" stroke-linecap="butt"/>
<line x1="845.8" y1="1080.1" x2="845.8" y2="1088.1" stroke="#000" stroke-width="2.7" stroke-linecap="butt"/>
<line x1="966.15" y1="1080.1" x2="966.15" y2="1088.1" stroke="#000" stroke-width="2.7" stroke-linecap="butt"/>
<line x1="1086.5" y1="1080.1" x2="1086.5" y2="1088.1" stroke="#000" stroke-width="2.7" stroke-linecap="butt"/>
<line x1="1206.85" y1="1080.1" x2="1206.85" y2="1088.1" stroke="#000" stroke-width="2.7" stroke-linecap="butt"/>
<line x1="1327.2" y1="1080.1" x2="1327.2" y2="1088.1" stroke="#000" stroke-width="2.7" stroke-linecap="butt"/>
<line x1="905.97" y1="1080.1" x2="905.97" y2="1084.6" stroke="#000" stroke-width="2.7" stroke-linecap="butt"/>
<line x1="1026.32" y1="1080.1" x2="1026.32" y2="1084.6" stroke="#000" stroke-width="2.7" stroke-linecap="butt"/>
<line x1="1146.67" y1="1080.1" x2="1146.67" y2="1084.6" stroke="#000" stroke-width="2.7" stroke-linecap="butt"/>
<line x1="1267.02" y1="1080.1" x2="1267.02" y2="1084.6" stroke="#000" stroke-width="2.7" stroke-linecap="butt"/>
<text x="762.42" y="639.2" font-size="25" text-anchor="start" fill="#000" >0.3</text>
<text x="762.42" y="849.7" font-size="25" text-anchor="start" fill="#000" >0.2</text>
<text x="761.02" y="1063.4" font-size="25" text-anchor="start" fill="#000" >0.1</text>
<text x="1341.09" y="699.9" font-size="25" text-anchor="start" fill="#0000ff" >-1.2</text>
<text x="1341.09" y="827.4" font-size="25" text-anchor="start" fill="#0000ff" >-1.0</text>
<text x="1341.09" y="957.3" font-size="25" text-anchor="start" fill="#0000ff" >-0.8</text>
<text x="1341.09" y="1083.8" font-size="25" text-anchor="start" fill="#0000ff" >-0.6</text>
<text x="829.9" y="1126.3" font-size="25" text-anchor="start" fill="#000" >1.5</text>
<text x="952.18" y="1126.3" font-size="25" text-anchor="start" fill="#000" >2.0</text>
<text x="1074.92" y="1126.3" font-size="25" text-anchor="start" fill="#000" >2.5</text>
<text x="1193.64" y="1126.3" font-size="25" text-anchor="start" fill="#000" >3.0</text>
<text x="1310.67" y="1126.3" font-size="25" text-anchor="start" fill="#000" >3.5</text>
<line x1="886.77" y1="1041.93" x2="1038.56" y2="966.97" stroke="#000" stroke-width="4.0" stroke-linecap="butt"/>
<line x1="1058.94" y1="958.88" x2="1137.04" y2="935.02" stroke="#000" stroke-width="4.0" stroke-linecap="butt"/>
<line x1="1154.41" y1="923.2" x2="1192.88" y2="874.9" stroke="#000" stroke-width="4.0" stroke-linecap="butt"/>
<line x1="1207" y1="858.05" x2="1269.89" y2="786.65" stroke="#000" stroke-width="4.0" stroke-linecap="butt"/>
<line x1="887.01" y1="938.94" x2="1038.32" y2="873.56" stroke="#1f3cff" stroke-width="3.8" stroke-linecap="butt"/>
<line x1="1055.82" y1="861.06" x2="1140.16" y2="768.24" stroke="#1f3cff" stroke-width="3.8" stroke-linecap="butt"/>
<line x1="1156.42" y1="753.59" x2="1190.86" y2="728.31" stroke="#1f3cff" stroke-width="3.8" stroke-linecap="butt"/>
<line x1="1208.93" y1="715.77" x2="1267.97" y2="677.03" stroke="#1f3cff" stroke-width="3.8" stroke-linecap="butt"/>
<circle cx="876.91" cy="1046.8" r="8.6" fill="#050505"/>
<circle cx="874.21" cy="1044.6" r="4.4" fill="url(#hk)"/>
<circle cx="1048.42" cy="962.1" r="8.6" fill="#050505"/>
<circle cx="1045.72" cy="959.9" r="4.4" fill="url(#hk)"/>
<circle cx="1147.56" cy="931.8" r="8.6" fill="#050505"/>
<circle cx="1144.86" cy="929.6" r="4.4" fill="url(#hk)"/>
<circle cx="1199.73" cy="866.3" r="8.6" fill="#050505"/>
<circle cx="1197.03" cy="864.1" r="4.4" fill="url(#hk)"/>
<circle cx="1277.16" cy="778.4" r="8.6" fill="#050505"/>
<circle cx="1274.46" cy="776.2" r="4.4" fill="url(#hk)"/>
<circle cx="876.91" cy="943.3" r="8.6" fill="#2040ff"/>
<circle cx="874.31" cy="940.8" r="4.8" fill="url(#hb)"/>
<circle cx="1048.42" cy="869.2" r="8.6" fill="#2040ff"/>
<circle cx="1045.82" cy="866.7" r="4.8" fill="url(#hb)"/>
<circle cx="1147.56" cy="760.1" r="8.6" fill="#2040ff"/>
<circle cx="1144.96" cy="757.6" r="4.8" fill="url(#hb)"/>
<circle cx="1199.73" cy="721.8" r="8.6" fill="#2040ff"/>
<circle cx="1197.13" cy="719.3" r="4.8" fill="url(#hb)"/>
<circle cx="1277.16" cy="671" r="8.6" fill="#2040ff"/>
<circle cx="1274.56" cy="668.5" r="4.8" fill="url(#hb)"/>
<text x="736.9" y="619.4" font-size="28.5" text-anchor="start" fill="#000" >d</text>
<text x="754.9" y="619.4" font-size="28.5" text-anchor="start" fill="#000" >)</text>
<text transform="translate(737.5,843.1) rotate(-90)" font-size="25" text-anchor="middle"><tspan font-style="italic">I</tspan><tspan font-size="14.5" dy="8">SC</tspan><tspan dy="-8"> (nA)</tspan></text>
<text transform="translate(1409,882.85) rotate(-90)" font-size="25" fill="#0000ff"><tspan font-style="italic">V</tspan><tspan font-size="14.5" dx="-1" dy="8">OC</tspan><tspan dy="-8"> (V)</tspan></text>
<text x="920.5" y="1158" font-size="25">ln (light intensity) (ln(mWcm<tspan font-size="14.5" dx="4" dy="-9">-2</tspan><tspan dy="9">))</tspan></text>
</svg>
</body></html>
